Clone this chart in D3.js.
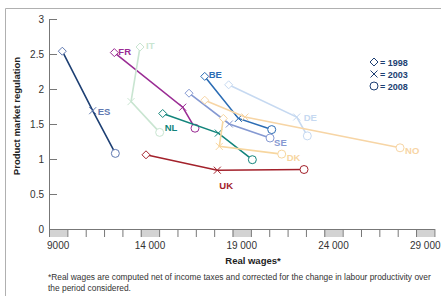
<!DOCTYPE html>
<html>
<head>
<meta charset="utf-8">
<script src="https://cdn.jsdelivr.net/npm/d3@7"></script>
<style>
  body { margin: 0; background: #fff; }
  text { font-family: "Liberation Sans", Arial, sans-serif; }
</style>
</head>
<body>
<div id="chart"></div>
<script>
// Data: real wages (x) and product market regulation (y) for 1998, 2003, 2008
var countries = ["ES", "FR", "IT", "NL", "BE", "DE", "SE", "DK", "NO", "UK"];
var wages = [
  [9225, 10880, 12115],
  [12060, 15785, 16455],
  [13460, 12970, 14530],
  [14695, 17726, 19580],
  [16985, 18820, 20635],
  [18290, 21998, 22576],
  [16130, 18325, 20545],
  [18000, 17780, 21180],
  [16985, 19180, 27628],
  [13785, 17672, 22396]
];
var pmr = [
  [2.54, 1.69, 1.08],
  [2.52, 1.74, 1.44],
  [2.60, 1.82, 1.38],
  [1.65, 1.37, 0.99],
  [2.18, 1.58, 1.42],
  [2.06, 1.60, 1.33],
  [1.94, 1.50, 1.30],
  [1.58, 1.18, 1.07],
  [1.84, 1.60, 1.16],
  [1.06, 0.84, 0.85]
];
var years = ["1998", "2003", "2008"];
var yTicks = [0, 0.5, 1, 1.5, 2, 2.5, 3];
var xTickLabels = [9000, 14000, 19000, 24000, 29000];

var colors = {
  ES: "#1d3f73", FR: "#9a2c94", IT: "#c9e5d1", NL: "#12847b", BE: "#2b6cb4",
  DE: "#c6d9f1", SE: "#8599d2", DK: "#f7d69f", NO: "#f7d5a5", UK: "#a3212b"
};
var markColors = { ES: "#5f78b0" };
// label offsets [dx, dy, which point]
var labelPos = {
  ES: [5, 4, 1], FR: [4, 2, 0], IT: [6, 2, 0], NL: [2, 17, 0], BE: [4, 2, 0],
  DE: [7, 4, 1], SE: [4, 8, 2], DK: [5, 7, 2], NO: [5, 6, 2], UK: [2, 19, 1]
};

var svgWidth = 441, svgHeight = 296;
var svg = d3.select("#chart").append("svg")
  .attr("width", svgWidth).attr("height", svgHeight);

// frame
svg.append("path").attr("d", "M5.5,296 V8.5 H441")
  .attr("fill", "none").attr("stroke", "#b0b0b0").attr("stroke-width", 1);

var x = d3.scaleLinear().domain([8500, 29500]).range([49, 434.4]);
var y = d3.scaleLinear().domain([0, 3]).range([229, 19]);

// x axis gray bands
svg.selectAll("rect.band").data(xTickLabels).enter().append("rect")
  .attr("x", d => x(d - 500)).attr("y", 229)
  .attr("width", d => x(d + 500) - x(d - 500)).attr("height", 8)
  .attr("fill", "#d3d3d3");

var xAxis = svg.append("g").attr("transform", "translate(0,229)")
  .call(d3.axisBottom(x).tickValues(d3.range(8500, 30500, 1000)).tickSize(8).tickSizeOuter(0).tickFormat(""));
xAxis.select(".domain").attr("stroke", "#777");
xAxis.selectAll(".tick line").attr("stroke", "#777");

svg.selectAll("text.xl").data(xTickLabels).enter().append("text")
  .attr("x", d => x(d)).attr("y", 249)
  .attr("text-anchor", "middle").attr("font-size", "10px").attr("fill", "#333")
  .text(d => d < 10000 ? d : d3.format(",")(d).replace(",", " "));

var yAxis = svg.append("g").attr("transform", "translate(49,0)")
  .call(d3.axisRight(y).tickValues(yTicks).tickSize(8).tickSizeOuter(0).tickFormat(""));
yAxis.select(".domain").attr("stroke", "#777");
yAxis.selectAll(".tick line").attr("stroke", "#777");

svg.selectAll("text.yl").data(yTicks).enter().append("text")
  .attr("x", 44).attr("y", d => y(d) + 3.5)
  .attr("text-anchor", "end").attr("font-size", "10px").attr("fill", "#333")
  .text(d => d);

// axis titles
svg.append("text").attr("x", 253).attr("y", 264)
  .attr("text-anchor", "middle").attr("font-size", "9.5px").attr("font-weight", "bold").attr("fill", "#222")
  .text("Real wages*");
svg.append("text").attr("transform", "translate(20,116) rotate(-90)")
  .attr("text-anchor", "middle").attr("font-size", "9.5px").attr("font-weight", "bold").attr("fill", "#222")
  .text("Product market regulation");

// footnote
svg.append("text").attr("x", 48).attr("y", 280).attr("font-size", "8.4px").attr("fill", "#333")
  .text("*Real wages are computed net of income taxes and corrected for the change in labour productivity over");
svg.append("text").attr("x", 48).attr("y", 291).attr("font-size", "8.4px").attr("fill", "#333")
  .text("the period considered.");

// marker drawing
function drawMarker(g, kind, cx, cy, col) {
  if (kind === 0) {
    g.append("path").attr("d", `M${cx},${cy - 4} L${cx + 4},${cy} L${cx},${cy + 4} L${cx - 4},${cy} Z`)
      .attr("fill", "#fff").attr("stroke", col).attr("stroke-width", 1);
  } else if (kind === 1) {
    g.append("path").attr("d", `M${cx - 3.5},${cy - 3.5} L${cx + 3.5},${cy + 3.5} M${cx + 3.5},${cy - 3.5} L${cx - 3.5},${cy + 3.5}`)
      .attr("fill", "none").attr("stroke", col).attr("stroke-width", 1);
  } else {
    g.append("circle").attr("cx", cx).attr("cy", cy).attr("r", 4)
      .attr("fill", "#fff").attr("stroke", col).attr("stroke-width", 1);
  }
}

var line = d3.line().x(d => x(d[0])).y(d => y(d[1]));

countries.forEach(function(c, i) {
  var pts = wages[i].map((w, j) => [w, pmr[i][j]]);
  var g = svg.append("g");
  g.append("path").attr("d", line(pts)).attr("fill", "none")
    .attr("stroke", colors[c]).attr("stroke-width", 1.6);
  var mc = markColors[c] || colors[c];
  pts.forEach(function(p, j) { drawMarker(g, j, x(p[0]), y(p[1]), mc); });
  var lp = labelPos[c];
  g.append("text").attr("x", x(pts[lp[2]][0]) + lp[0]).attr("y", y(pts[lp[2]][1]) + lp[1])
    .attr("font-size", "9.5px").attr("font-weight", "bold").attr("fill", mc)
    .text(c);
});

// legend
var legend = svg.append("g");
years.forEach(function(yr, j) {
  var ly = 62 + j * 12;
  drawMarker(legend, j, 374, ly, "#1d3f73");
  legend.append("text").attr("x", 380).attr("y", ly + 3.5)
    .attr("font-size", "9px").attr("font-weight", "bold").attr("fill", "#1d3f73")
    .text("= " + yr);
});
</script>
</body>
</html>
